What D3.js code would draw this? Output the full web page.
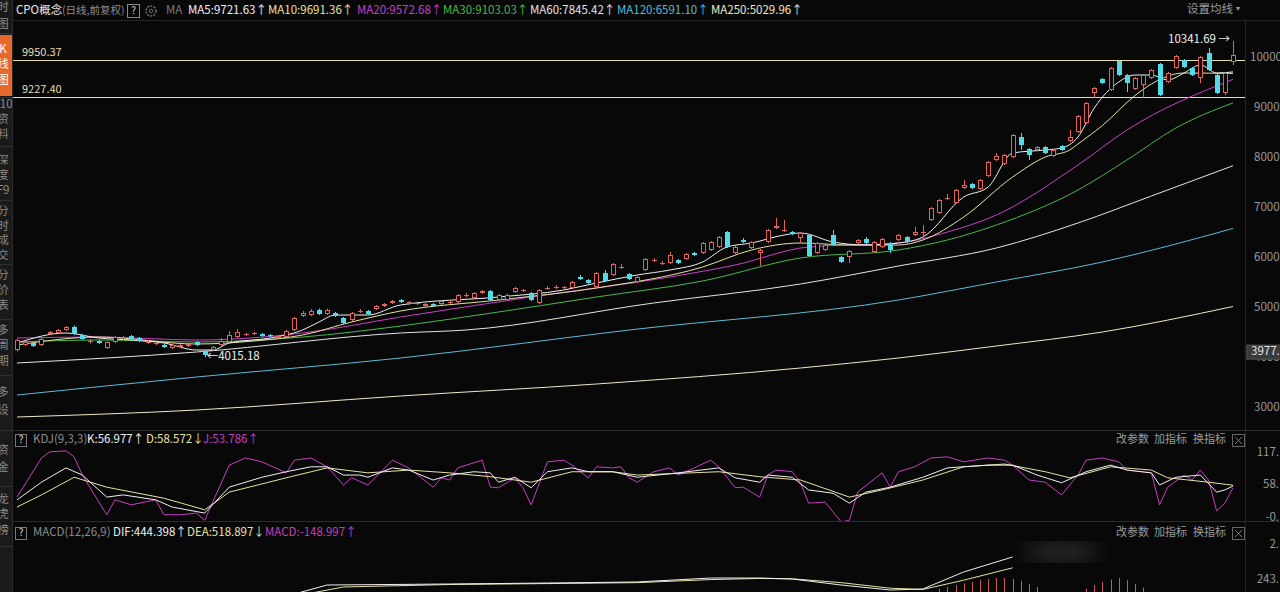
<!DOCTYPE html>
<html lang="zh-CN">
<head>
<meta charset="UTF-8">
<title>CPO概念 日线</title>
<script src="https://cdn.jsdelivr.net/npm/d3@7/dist/d3.min.js"></script>
<style>
  body { margin: 0; background: #080808; overflow: hidden; }
  svg { display: block; font-family: 'Noto Sans CJK SC', 'Noto Sans', sans-serif; }
</style>
</head>
<body>
<svg id="chart" width="1280" height="592"></svg>
<script>
// ---- daily candles ----
const opens = [4160,4260,4300,4260,4480,4500,4560,4620,4460,4320,
  4340,4200,4320,4380,4440,4400,4300,4280,4260,4200,
  4220,4240,4320,4140,4160,4260,4320,4420,4460,4480,
  4480,4460,4400,4420,4560,4840,4860,4960,4880,4900,
  4800,4760,4920,4940,4980,5040,5100,5160,5080,5080,
  5040,5080,5080,5100,5120,5240,5200,5300,5340,5160,
  5160,5320,5340,5300,5100,5380,5400,5400,5400,5620,
  5560,5420,5700,5660,5800,5680,5520,5760,5940,5880,
  5900,5960,5980,6100,6100,6160,6220,6520,6100,6360,
  6200,6100,6320,6600,6540,6520,6400,6460,6100,6160,
  6460,6020,6020,6300,6380,6120,6220,6300,6360,6420,
  6460,6500,6760,6900,7180,7100,7400,7480,7380,7640,
  7960,7880,8020,8420,8180,8160,8220,8040,8240,8340,
  8520,8700,9300,9580,9360,9940,9660,9380,9460,9600,
  9880,9520,9800,9960,9800,9600,10100,9660,9300,9920];
const highs = [4390,4350,4320,4400,4540,4580,4640,4650,4480,4380,
  4360,4330,4440,4440,4460,4420,4350,4320,4280,4280,
  4280,4300,4340,4160,4240,4400,4540,4580,4500,4520,
  4500,4480,4460,4560,4820,4940,4980,4990,4990,4920,
  4820,4920,4980,4960,5060,5100,5160,5180,5140,5130,
  5100,5100,5160,5160,5280,5300,5320,5360,5360,5280,
  5290,5420,5380,5320,5380,5440,5460,5440,5540,5660,
  5580,5720,5760,5900,5880,5700,5640,6000,6000,5940,
  6120,5980,6100,6120,6320,6340,6440,6540,6240,6400,
  6340,6180,6580,6800,6760,6540,6520,6480,6320,6300,
  6560,6040,6160,6380,6420,6340,6400,6320,6480,6440,
  6620,6660,7020,7180,7280,7380,7560,7500,7580,7940,
  8100,8080,8480,8500,8200,8240,8240,8180,8260,8560,
  8860,9120,9420,9600,9820,9960,9680,9620,9680,9780,
  9900,9720,10060,9980,9820,10040,10200,9680,9720,10341.69];
const lows = [4130,4240,4220,4240,4460,4480,4540,4460,4360,4290,
  4280,4180,4300,4360,4360,4320,4280,4260,4200,4180,
  4200,4220,4240,4015.18,4140,4240,4300,4400,4440,4460,
  4420,4420,4380,4400,4540,4820,4840,4860,4860,4820,
  4680,4740,4900,4860,4960,5020,5080,5100,5060,5060,
  5020,5020,5060,5080,5100,5220,5180,5280,5140,5140,
  5140,5300,5320,5140,5080,5360,5380,5380,5380,5560,
  5480,5400,5520,5640,5780,5560,5500,5740,5920,5860,
  5880,5880,5960,6040,6080,6140,6200,6200,6080,6300,
  6180,5840,6300,6580,6520,6460,6300,6020,6080,6140,
  6240,5900,5900,6280,6280,6100,6200,6100,6340,6300,
  6440,6400,6740,6880,7160,7080,7380,7380,7360,7620,
  7940,7860,8000,8160,7960,8140,8080,8020,8140,8320,
  8500,8680,9200,9480,9340,9640,9320,9360,9200,9580,
  9240,9500,9780,9800,9640,9500,9740,9280,9260,9860];
const closes = [4360,4320,4240,4380,4520,4560,4620,4480,4380,4340,
  4300,4320,4420,4420,4380,4340,4320,4300,4220,4260,
  4260,4280,4260,4060,4220,4340,4460,4520,4480,4500,
  4440,4440,4440,4540,4800,4900,4940,4880,4960,4840,
  4700,4900,4940,4880,5040,5080,5140,5120,5120,5100,
  5080,5040,5140,5120,5260,5260,5300,5340,5160,5260,
  5260,5400,5360,5160,5360,5400,5420,5420,5520,5580,
  5500,5700,5540,5880,5820,5580,5620,5980,5960,5900,
  6060,5900,6080,6060,6300,6320,6420,6220,6220,6320,
  6320,6160,6560,6640,6560,6480,6500,6040,6300,6260,
  6260,5920,6140,6360,6300,6320,6380,6160,6460,6320,
  6520,6520,7000,7160,7200,7360,7460,7400,7560,7920,
  8040,8060,8460,8260,8060,8220,8100,8160,8160,8420,
  8840,9100,9400,9500,9800,9660,9500,9600,9660,9760,
  9260,9700,10040,9820,9660,10020,9760,9300,9700,10060];

// ---- moving averages, read at sample days ----
const ma5Idx = [0,6,10,14,18,22,24,26,31,35,37,39,43,47,59,67,71,76,80,84,87,90,94,96,100,104,108,111,116,119,122,126,128,130,132,135,137,139,141,143,145,147,149];
const ma5Val = [4300,4500,4400,4360,4300,4160,4160,4300,4400,4560,4720,4860,4860,5060,5220,5360,5500,5660,5760,5920,6220,6300,6460,6500,6320,6260,6300,6420,7220,7420,8100,8160,8200,8420,9000,9520,9660,9660,9560,9700,9860,9700,9721.63];
const ma10Idx = [0,10,22,29,35,41,47,59,71,84,90,96,102,108,111,116,122,126,129,130,133,137,139,143,149];
const ma10Val = [4260,4420,4280,4340,4460,4720,4940,5160,5400,5820,6160,6300,6260,6260,6360,6820,7620,8020,8160,8280,8650,9250,9480,9700,9691.36];
const ma20Idx = [0,10,22,35,47,63,80,88,97,108,114,120,130,136,149];
const ma20Val = [4400,4420,4360,4500,4820,5220,5620,5860,6220,6300,6520,6860,7860,8560,9572.68];
const ma30Idx = [0,10,22,35,47,59,71,84,96,108,114,120,130,136,142,149];
const ma30Val = [4320,4360,4320,4420,4640,4920,5220,5540,6000,6160,6360,6660,7360,7960,8600,9103.03];
const ma60Idx = [0,22,47,55,78,96,108,120,130,139,149];
const ma60Val = [3900,4120,4500,4560,5100,5480,5840,6200,6700,7240,7845.42];
const ma120Idx = [0,22,47,75,108,120,133,149];
const ma120Val = [3260,3620,4000,4560,5160,5520,5920,6591.10];
const ma250Idx = [0,22,47,71,96,108,120,133,149];
const ma250Val = [2820,2960,3240,3480,3800,4000,4240,4520,5029.96];

const maNames = ["MA5", "MA10", "MA20", "MA30", "MA60", "MA120", "MA250"];
const maLast = ["9721.63", "9691.36", "9572.68", "9103.03", "7845.42", "6591.10", "5029.96"];

const levelLines = [9950.37, 9227.40];
const priceTicks = [10000, 9000, 8000, 7000, 6000, 5000, 4000, 3000];
const crossValue = 3977;

// ---- KDJ(9,3,3) ----
const kIdx = [0,3,6,8,11,13,17,19,23,26,30,33,36,38,40,42,43,46,48,51,53,56,58,59,61,63,65,68,70,73,76,81,86,88,91,92,95,97,100,102,104,107,111,114,119,122,125,128,131,134,136,139,140,142,145,147,148,149];
const kVal = [32,64,90,77,37,41,32,19,8,55,73,83,92,92,77,77,73,90,86,68,77,83,81,64,73,54,83,90,83,83,73,81,90,72,64,77,73,50,44,26,46,55,73,90,95,95,77,63,83,95,86,81,59,73,77,46,50,56.977];
const dIdx = [0,3,7,11,18,23,26,33,38,43,48,53,58,63,68,73,76,86,91,96,102,106,111,116,121,126,129,134,139,141,146,149];
const dVal = [19,41,73,55,35,14,46,72,90,81,86,81,74,64,83,83,77,83,74,68,37,50,68,92,97,83,72,92,86,72,64,58.572];
const jIdx = [0,3,4,6,7,8,11,12,14,17,18,20,22,23,26,28,30,33,34,36,38,40,41,43,46,48,51,52,53,54,57,58,59,61,62,63,65,67,68,70,71,73,74,75,76,78,80,81,83,85,86,88,89,91,92,93,95,96,97,99,101,102,103,106,107,108,110,112,114,116,119,121,122,124,126,128,130,131,133,135,136,139,140,141,143,144,145,146,147,148,149];
const jVal = [37,108,119,121,110,77,5,32,23,32,5,5,8,-5,95,108,101,81,104,108,92,59,72,59,104,90,55,72,68,90,104,55,54,72,54,23,101,104,95,72,92,90,92,72,64,83,90,77,90,104,92,54,55,37,77,86,83,63,26,28,-8,-5,46,81,55,83,92,108,110,101,108,104,95,68,64,41,77,104,108,101,86,81,23,55,77,68,86,68,12,26,53.786];
const kdjLabels = ["K:56.977↑", "D:58.572↓", "J:53.786↑"];
const kdjTickVals = [117.1, 58.5, -0.1];
const kdjTickLabels = ["117.", "58.", "-0."];

// ---- MACD(12,26,9), visible part ----
const difIdx = [33,38,53,65,76,85,91,95,101,107,111,116,122];
const difVal = [-20,162,178,194,211,275,275,259,162,81,97,373,616];
const deaIdx = [34,40,53,65,76,85,91,95,101,107,111,116,122];
const deaVal = [-20,130,170,185,200,250,268,262,200,110,90,240,440];
const histIdx = [113,114,115,116,117,118,119,120,121,122,123,124,125,131,132,133,134,135,136,137,138];
const histVal = [100,130,160,190,210,240,260,275,275,260,230,180,130,100,160,210,250,275,240,180,120];
const macdLabels = ["DIF:444.398↑", "DEA:518.897↓", "MACD:-148.997↑"];
const macdTickVals = [810, 243];
const macdTickLabels = ["2.", "243."];

// ---- left tab strip ----
const sideChars = [["时",8],["图",25],["K",50],["线",65],["图",81],["F10",105],["资",120],["料",135],
  ["深",161],["度",176],["F9",191],["分",212],["时",227],["成",241],["交",256],["分",276],["价",291],["表",306],
  ["多",331],["周",346],["期",362],["多",393],["设",411],["资",451],["金",468],["龙",500],["虎",515],["榜",531]];
const sideSeps = [33, 97, 146, 200, 264, 319, 375, 430, 486, 546];

const W = 1280, H = 592;
const UP = "#e0645c", DOWN = "#52dbe6";
const GRAY = "#8c8c8c";

const svg = d3.select("#chart");
svg.append("rect").attr("width", W).attr("height", H).attr("fill", "#080808");

const defs = svg.append("defs");
function clip(id, x, y, w, h) {
  defs.append("clipPath").attr("id", id).append("rect")
    .attr("x", x).attr("y", y).attr("width", w).attr("height", h);
}
clip("clipMain", 13, 21, 1232, 409);
clip("clipKdj", 13, 431, 1232, 90);
clip("clipMacd", 13, 522, 1232, 70);
clip("clipSide", 0, 0, 12, H);
defs.append("filter").attr("id", "blur").append("feGaussianBlur").attr("stdDeviation", 10);

const x = d3.scaleLinear().domain([0, closes.length - 1]).range([17, 1233]);
const y = d3.scaleLinear().domain([3000, 10000]).range([408, 58]);
const kdjY = d3.scaleLinear().domain([0, 117]).range([517.5, 453]);
const macdY = d3.scaleLinear().domain([0, 810]).range([595, 545]);

function text(g, tx, ty, s, color, size, anchor) {
  return g.append("text").attr("x", tx).attr("y", ty).attr("fill", color)
    .attr("font-size", size || 11.5).attr("text-anchor", anchor || "start")
    .attr("dominant-baseline", "middle").text(s);
}

// ---- frame ----
svg.append("rect").attr("x", 0).attr("y", 0).attr("width", 12).attr("height", H).attr("fill", "#1a1a1a");
svg.append("rect").attr("x", 0).attr("y", 35).attr("width", 12).attr("height", 61).attr("fill", "#e7682b");
const side = svg.append("g").attr("clip-path", "url(#clipSide)");
sideChars.forEach(([c, cy]) => {
  text(side, 3, cy, c, (cy > 35 && cy < 96) ? "#ffffff" : "#8a8a8a", 11.5, "middle");
});
sideSeps.forEach(sy => {
  svg.append("line").attr("x1", 0).attr("x2", 12).attr("y1", sy + 0.5).attr("y2", sy + 0.5)
    .attr("stroke", "#303030");
});
svg.append("line").attr("x1", 12.5).attr("x2", 12.5).attr("y1", 0).attr("y2", H).attr("stroke", "#2c2c2c");
svg.append("line").attr("x1", 13).attr("x2", W).attr("y1", 20.5).attr("y2", 20.5).attr("stroke", "#242424");
svg.append("line").attr("x1", 13).attr("x2", W).attr("y1", 430.5).attr("y2", 430.5).attr("stroke", "#2c2c2c");
svg.append("line").attr("x1", 13).attr("x2", W).attr("y1", 521.5).attr("y2", 521.5).attr("stroke", "#2c2c2c");
svg.append("line").attr("x1", 1245.5).attr("x2", 1245.5).attr("y1", 21).attr("y2", H).attr("stroke", "#262626");

// ---- header ----
const head = svg.append("g");
text(head, 16, 11, "CPO概念", "#e8e8e8", 11.5);
text(head, 62, 11, "(日线,前复权)", GRAY, 10.5);
head.append("rect").attr("x", 127.5).attr("y", 4.5).attr("width", 12).attr("height", 13)
  .attr("fill", "none").attr("stroke", "#8a8a8a");
text(head, 133.5, 11, "?", "#dddddd", 10, "middle");
head.append("circle").attr("cx", 151).attr("cy", 11).attr("r", 5).attr("fill", "none")
  .attr("stroke", "#6a6a6a").attr("stroke-width", 1.6).attr("stroke-dasharray", "2 1.2");
head.append("circle").attr("cx", 151).attr("cy", 11).attr("r", 1.8).attr("fill", "none").attr("stroke", "#6a6a6a");
text(head, 166, 11, "MA", "#7a7a7a", 11.5);
const maColors = ["#f0f0f0", "#e8e2a2", "#c83fc6", "#47b84b", "#e4e4e4", "#5cbcd6", "#efe8c6"];
const maX = [188, 268, 357, 443, 530, 617, 711];
maNames.forEach((n, k) => text(head, maX[k], 11, `${n}:${maLast[k]}↑`, maColors[k], 11.5));
text(head, 1187, 10, "设置均线", "#9a9a9a", 11.5);
text(head, 1236, 9, "▾", "#9a9a9a", 8);

// ---- price panel ----
const main = svg.append("g").attr("clip-path", "url(#clipMain)");

const axis = svg.append("g");
priceTicks.forEach(v => text(axis, v >= 10000 ? 1250 : 1254, y(v), v + ".", "#9a9a9a", 11.5, "start"));
const cy0 = y(crossValue) - 7;
axis.append("rect").attr("x", 1247).attr("y", cy0 - 7).attr("width", 40).attr("height", 14)
  .attr("fill", "#3a3a3a").attr("stroke", "#575757");
text(axis, 1251, cy0, crossValue + ".", "#e6e6e6", 11.5);

levelLines.forEach(v => {
  main.append("line").attr("x1", 13).attr("x2", 1245).attr("y1", Math.round(y(v)) + 0.5)
    .attr("y2", Math.round(y(v)) + 0.5).attr("stroke", "#e6dfb0").attr("stroke-width", 1);
  text(main, 22, y(v) - 7, v.toFixed(2), "#e6dfb0", 11);
});

const maSets = [
  [ma250Idx, ma250Val, maColors[6]],
  [ma120Idx, ma120Val, maColors[5]],
  [ma60Idx, ma60Val, maColors[4]],
  [ma30Idx, ma30Val, maColors[3]],
  [ma20Idx, ma20Val, maColors[2]],
  [ma10Idx, ma10Val, maColors[1]],
  [ma5Idx, ma5Val, maColors[0]]
];
const smooth = d3.line().x(d => x(d[0])).y(d => y(d[1])).curve(d3.curveMonotoneX);
maSets.forEach(([idx, vals, col]) => {
  main.append("path").datum(idx.map((d, k) => [d, vals[k]]))
    .attr("d", smooth).attr("fill", "none").attr("stroke", col).attr("stroke-width", 1);
});

const candles = closes.map((c, i) => ({ i, o: opens[i], h: highs[i], l: lows[i], c }));
const cg = main.selectAll("g.candle").data(candles).join("g").attr("class", "candle");
cg.each(function (d) {
  const g = d3.select(this);
  const up = d.c >= d.o;
  const col = up ? UP : DOWN;
  const r = Math.round(x(d.i));
  const top = Math.round(y(Math.max(d.o, d.c)));
  const bot = Math.max(top + 1, Math.round(y(Math.min(d.o, d.c))));
  g.append("line").attr("x1", r + 0.5).attr("x2", r + 0.5)
    .attr("y1", y(d.h)).attr("y2", top).attr("stroke", col);
  g.append("line").attr("x1", r + 0.5).attr("x2", r + 0.5)
    .attr("y1", bot).attr("y2", y(d.l)).attr("stroke", col);
  if (up) {
    g.append("rect").attr("x", r - 1.5).attr("y", top + 0.5)
      .attr("width", 4).attr("height", Math.max(0.01, bot - top - 1))
      .attr("fill", "#080808").attr("stroke", col);
  } else {
    g.append("rect").attr("x", r - 2).attr("y", top)
      .attr("width", 5).attr("height", bot - top).attr("fill", col);
  }
});

// high / low markers
const hiI = d3.maxIndex(highs), loI = d3.minIndex(lows);
text(main, x(hiI) - 3, y(highs[hiI]) - 1, highs[hiI].toFixed(2) + " →", "#f0f0f0", 11.5, "end");
text(main, x(loI) + 2, y(lows[loI]), "←" + lows[loI].toFixed(2), "#f0f0f0", 11.5, "start");

// ---- KDJ panel ----
const kdjHead = svg.append("g");
function qbox(g, by) {
  g.append("rect").attr("x", 15.5).attr("y", by - 5.5).attr("width", 11).attr("height", 12)
    .attr("fill", "none").attr("stroke", "#7a7a7a");
  text(g, 21, by + 0.5, "?", "#dddddd", 10, "middle");
}
function tools(g, by) {
  text(g, 1116, by, "改参数", "#9a9a9a", 11);
  text(g, 1154, by, "加指标", "#9a9a9a", 11);
  text(g, 1193, by, "换指标", "#9a9a9a", 11);
  g.append("rect").attr("x", 1232.5).attr("y", by - 5.5).attr("width", 12).attr("height", 12)
    .attr("fill", "none").attr("stroke", "#666");
  g.append("path").attr("d", `M1235,${by - 3}L1242,${by + 4}M1242,${by - 3}L1235,${by + 4}`)
    .attr("stroke", "#888").attr("stroke-width", 0.9);
}
qbox(kdjHead, 440);
text(kdjHead, 33, 440, "KDJ(9,3,3)", GRAY, 11.5);
const kdjColors = ["#f0f0f0", "#e8e2a2", "#c43fbf"];
[87, 146, 203].forEach((px, k) => text(kdjHead, px, 440, kdjLabels[k], kdjColors[k], 11.5));
tools(kdjHead, 440);
kdjTickVals.forEach((v, k) => text(axis, 1279, kdjY(v), kdjTickLabels[k], "#9a9a9a", 11.5, "end"));

const kdj = svg.append("g").attr("clip-path", "url(#clipKdj)");
const kline = d3.line().x(d => x(d[0])).y(d => kdjY(d[1]));
[[jIdx, jVal, kdjColors[2]], [dIdx, dVal, kdjColors[1]], [kIdx, kVal, kdjColors[0]]].forEach(([idx, vals, col]) => {
  kdj.append("path").datum(idx.map((d, k) => [d, vals[k]]))
    .attr("d", kline).attr("fill", "none").attr("stroke", col).attr("stroke-width", 1);
});

// ---- MACD panel ----
const macdHead = svg.append("g");
qbox(macdHead, 533);
text(macdHead, 33, 533, "MACD(12,26,9)", GRAY, 11.5);
[113, 187, 265].forEach((px, k) => text(macdHead, px, 533, macdLabels[k], kdjColors[k], 11.5));
tools(macdHead, 533);
macdTickVals.forEach((v, k) => text(axis, 1279, macdY(v), macdTickLabels[k], "#9a9a9a", 11.5, "end"));

const macd = svg.append("g").attr("clip-path", "url(#clipMacd)");
macd.selectAll("line.bar").data(histIdx).join("line").attr("class", "bar")
  .attr("x1", d => Math.round(x(d)) + 0.5).attr("x2", d => Math.round(x(d)) + 0.5)
  .attr("y1", macdY(0)).attr("y2", (d, k) => macdY(histVal[k]))
  .attr("stroke", "#c85a5a").attr("stroke-width", 1);
const mline = d3.line().x(d => x(d[0])).y(d => macdY(d[1]));
[[deaIdx, deaVal, kdjColors[1]], [difIdx, difVal, kdjColors[0]]].forEach(([idx, vals, col]) => {
  macd.append("path").datum(idx.map((d, k) => [d, vals[k]]))
    .attr("d", mline).attr("fill", "none").attr("stroke", col).attr("stroke-width", 1);
});
// soft glare over the panel, as in the screenshot
macd.append("ellipse").attr("cx", 1062).attr("cy", 552).attr("rx", 38).attr("ry", 9)
  .attr("fill", "#8a8a8a").attr("opacity", 0.3).attr("filter", "url(#blur)");
</script>
</body>
</html>
